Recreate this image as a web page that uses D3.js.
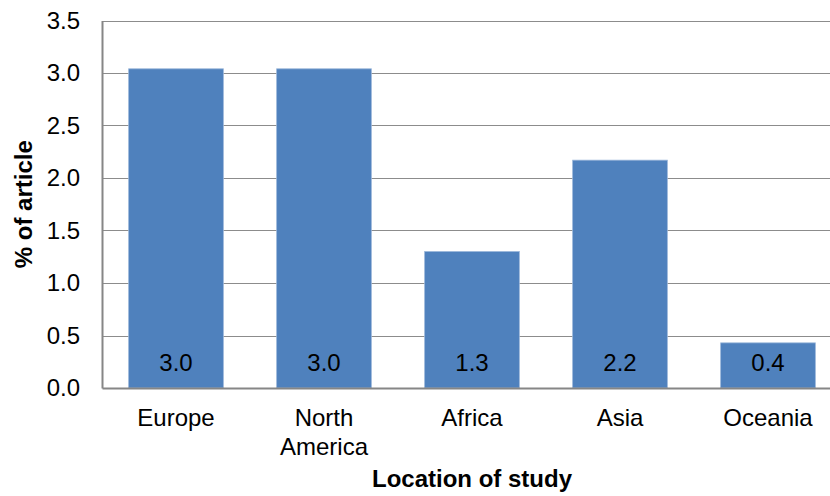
<!DOCTYPE html>
<html>
<head>
<meta charset="utf-8">
<script src="https://cdn.jsdelivr.net/npm/d3@7"></script>
<style>
  html, body { margin: 0; padding: 0; background: #fff; }
  svg { display: block; font-family: "Liberation Sans", Arial, sans-serif; }
</style>
</head>
<body>
<svg id="chart" width="830" height="496"></svg>
<script>
// Share of articles by region where the study was carried out
const categories = ["Europe", "North America", "Africa", "Asia", "Oceania"];
const values = [3.04, 3.04, 1.30, 2.17, 0.43];
const yTicks = [0, 0.5, 1.0, 1.5, 2.0, 2.5, 3.0, 3.5];
const yTitle = "% of article";
const xTitle = "Location of study";

const svg = d3.select("#chart");
const plot = { left: 102, right: 842, top: 20.5, bottom: 388 };
const fontSize = 24;

const x = d3.scaleBand()
  .domain(categories)
  .range([plot.left, plot.right])
  .paddingInner(0.36)
  .paddingOuter(0.18);

const y = d3.scaleLinear()
  .domain([0, 3.5])
  .range([plot.bottom, plot.top]);

// horizontal gridlines
svg.append("g")
  .selectAll("line")
  .data(yTicks.filter(d => d > 0))
  .join("line")
  .attr("x1", plot.left)
  .attr("x2", plot.right)
  .attr("y1", d => Math.round(y(d)) + 0.5)
  .attr("y2", d => Math.round(y(d)) + 0.5)
  .attr("stroke", "#8c8c8c")
  .attr("stroke-width", 1.2);

// bars
svg.append("g")
  .selectAll("rect")
  .data(values)
  .join("rect")
  .attr("x", (d, i) => x(categories[i]))
  .attr("y", d => y(d))
  .attr("width", x.bandwidth())
  .attr("height", d => plot.bottom - y(d))
  .attr("fill", "#4f81bd")
  .attr("stroke", "#9bb7da")
  .attr("stroke-width", 0.8);

// value labels near the base of each bar
svg.append("g")
  .selectAll("text")
  .data(values)
  .join("text")
  .attr("x", (d, i) => x(categories[i]) + x.bandwidth() / 2)
  .attr("y", 371)
  .attr("text-anchor", "middle")
  .attr("font-size", fontSize)
  .attr("fill", "#000")
  .text(d => d3.format(".1f")(d));

// y axis
const yAxis = d3.axisLeft(y)
  .tickValues(yTicks)
  .tickFormat(d3.format(".1f"))
  .tickSize(0)
  .tickPadding(22);
const gy = svg.append("g")
  .attr("transform", `translate(${plot.left},0)`)
  .call(yAxis);
gy.select(".domain").attr("stroke", "#868686").attr("stroke-width", 2);
gy.selectAll("text")
  .attr("font-size", fontSize)
  .attr("fill", "#000")
  .attr("font-family", "Liberation Sans, Arial, sans-serif");

// x axis
const xAxis = d3.axisBottom(x).tickSize(0).tickFormat(() => "");
const gx = svg.append("g")
  .attr("transform", `translate(0,${plot.bottom})`)
  .call(xAxis);
gx.select(".domain").attr("stroke", "#868686").attr("stroke-width", 2);

// category labels, wrapped on spaces where needed
const catLabel = svg.append("g")
  .selectAll("text")
  .data(categories)
  .join("text")
  .attr("x", d => x(d) + x.bandwidth() / 2)
  .attr("y", 426)
  .attr("text-anchor", "middle")
  .attr("font-size", fontSize)
  .attr("fill", "#000");
catLabel.each(function (d) {
  const words = d.split(" ");
  const t = d3.select(this);
  const cx = +t.attr("x");
  words.forEach((w, i) => {
    t.append("tspan")
      .attr("x", cx)
      .attr("dy", i === 0 ? 0 : 29)
      .text(w);
  });
});

// axis titles
svg.append("text")
  .attr("x", 472)
  .attr("y", 487)
  .attr("text-anchor", "middle")
  .attr("font-size", fontSize)
  .attr("font-weight", "bold")
  .attr("fill", "#000")
  .text(xTitle);

svg.append("text")
  .attr("transform", `translate(32,${(plot.top + plot.bottom) / 2}) rotate(-90)`)
  .attr("text-anchor", "middle")
  .attr("font-size", fontSize)
  .attr("font-weight", "bold")
  .attr("fill", "#000")
  .text(yTitle);
</script>
</body>
</html>
